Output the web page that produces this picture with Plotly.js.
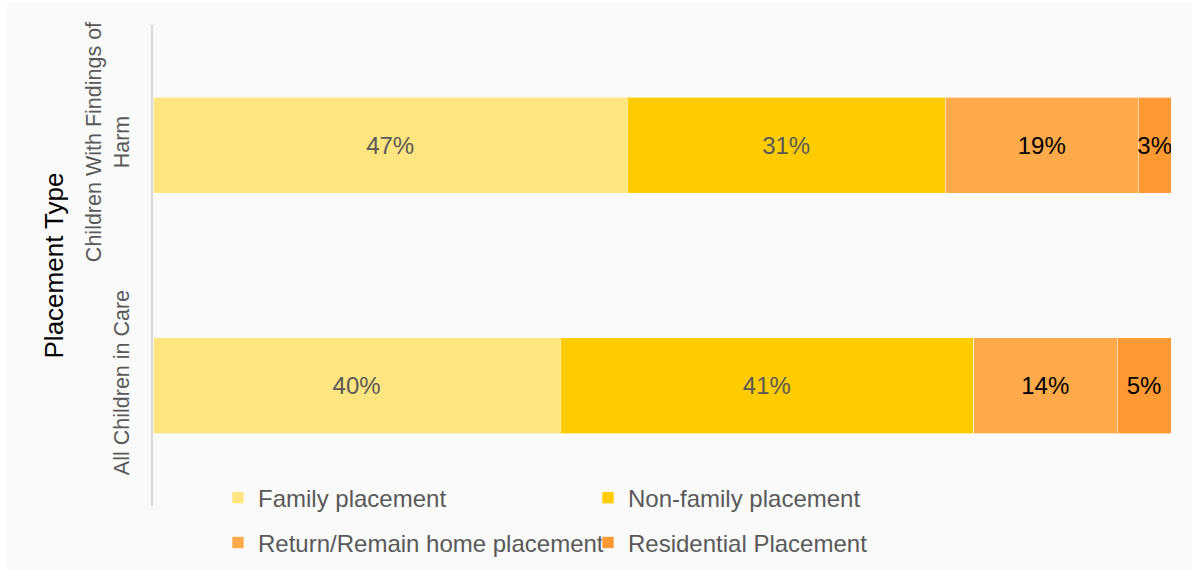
<!DOCTYPE html>
<html>
<head>
<meta charset="utf-8">
<script src="https://cdn.plot.ly/plotly-3.0.1.min.js"></script>
<style>html,body{margin:0;padding:0;background:#fff;}#chart{width:1192px;height:577px;}</style>
</head>
<body>
<div id="chart"></div>
<script>
// Data
var categories = ["All Children in Care", "Children With Findings of<br>Harm"];
var seriesNames = ["Family placement", "Non-family placement", "Return/Remain home placement", "Residential Placement"];
var familyPlacement = [40.0, 46.6];
var nonFamilyPlacement = [40.6, 31.2];
var returnHomePlacement = [14.1, 19.0];
var residentialPlacement = [5.3, 3.2];
var seriesValues = [familyPlacement, nonFamilyPlacement, returnHomePlacement, residentialPlacement];

var colors = ["#FFE57F", "#FFCC00", "#FFAA4A", "#FF9933"];
var textColors = ["#595959", "#595959", "#000000", "#000000"];
var legendIds = ["legend", "legend", "legend2", "legend2"];

var W = 1192, H = 577;
var L = 153, R = 21, T = 25, B = 69;
var pw = W - L - R, ph = H - T - B;
function px2x(p) { return (p - L) / pw; }
function py2y(p) { return (H - B - p) / ph; }

var traces = seriesNames.map(function (name, i) {
  return {
    type: "bar",
    orientation: "h",
    name: name,
    y: categories,
    x: seriesValues[i],
    legend: legendIds[i],
    marker: { color: colors[i], line: { color: "rgba(255,255,255,0.6)", width: 1 } },
    texttemplate: "%{x:.0f}%",
    textposition: "inside",
    insidetextanchor: "middle",
    textangle: 0,
    constraintext: "none",
    textfont: { family: "Liberation Sans, Arial, sans-serif", size: 24, color: textColors[i] },
    hoverinfo: "skip"
  };
});

var legendFont = { family: "Liberation Sans, Arial, sans-serif", size: 24, color: "#595959" };

var layout = {
  width: W, height: H,
  margin: { l: L, r: R, t: T, b: B, pad: 0 },
  paper_bgcolor: "#ffffff",
  plot_bgcolor: "rgba(0,0,0,0)",
  barmode: "stack",
  bargap: 0.6,
  font: { family: "Liberation Sans, Arial, sans-serif", color: "#595959" },
  xaxis: { range: [0, 100], visible: false, fixedrange: true },
  yaxis: {
    type: "category",
    range: [-0.5, 1.5],
    showline: true, linecolor: "#d9d9d9", linewidth: 2,
    showgrid: false, zeroline: false,
    ticks: "", tickangle: -90,
    tickfont: { family: "Liberation Sans, Arial, sans-serif", size: 21.5, color: "#595959" },
    ticklabelstandoff: 13,
    title: { text: "Placement Type", font: { family: "Liberation Sans, Arial, sans-serif", size: 26, color: "#000000" }, standoff: 11 },
    automargin: false
  },
  legend: {
    orientation: "h", x: px2x(218), xanchor: "left", y: py2y(500), yanchor: "middle",
    font: legendFont, entrywidth: 325, entrywidthmode: "pixels", bgcolor: "rgba(0,0,0,0)", traceorder: "normal"
  },
  legend2: {
    orientation: "h", x: px2x(218), xanchor: "left", y: py2y(545), yanchor: "middle",
    font: legendFont, entrywidth: 325, entrywidthmode: "pixels", bgcolor: "rgba(0,0,0,0)", traceorder: "normal"
  },
  shapes: [{
    type: "rect", xref: "paper", yref: "paper", layer: "below",
    x0: px2x(7), x1: px2x(1192), y0: py2y(572), y1: py2y(3),
    fillcolor: "#fafafa", line: { width: 0 }
  }]
};

Plotly.newPlot("chart", traces, layout, { displayModeBar: false, staticPlot: true });
</script>
</body>
</html>
